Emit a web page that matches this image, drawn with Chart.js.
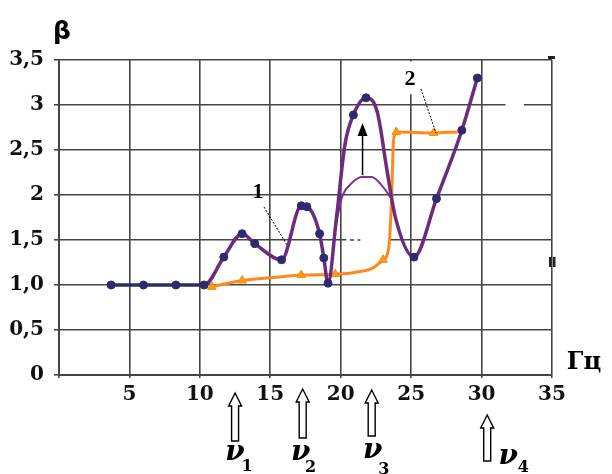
<!DOCTYPE html>
<html>
<head>
<meta charset="utf-8">
<script src="https://cdn.jsdelivr.net/npm/chart.js@4.4.1/dist/chart.umd.min.js"></script>
<style>
  html, body { margin: 0; padding: 0; background: #fff; }
  #chart { display: block; }
</style>
</head>
<body>
<canvas id="chart" width="612" height="474"></canvas>
<script>
// кривая 1 (жирная, с точками)
const freq1   = [3.7, 6.0, 8.3, 10.3, 11.7, 13.0, 13.9, 15.8, 17.2, 17.6, 18.5, 18.8, 19.1, 19.7, 20.3, 20.9, 21.8, 22.6, 23.3, 23.9, 25.2, 26.8, 28.6, 29.7];
const beta1   = [1.0, 1.0, 1.0, 1.0, 1.31, 1.57, 1.46, 1.28, 1.88, 1.87, 1.57, 1.30, 1.02, 1.75, 2.56, 2.89, 3.08, 2.92, 2.26, 1.74, 1.31, 1.96, 2.72, 3.30];
const marked1 = [1, 1, 1, 1, 1, 1, 1, 1, 1, 1, 1, 1, 1, 0, 0, 1, 1, 0, 0, 0, 1, 1, 1, 1];
// тонкая ветвь кривой 1 (под стрелкой)
const freqBranch = [19.6, 20.1, 20.7, 21.5, 22.2, 22.9, 23.6];
const betaBranch = [1.62, 1.98, 2.12, 2.2, 2.2, 2.11, 1.96];
// кривая 2 (оранжевая)
const freq2   = [10.85, 13.0, 15.0, 17.2, 19.6, 21.0, 22.3, 23.0, 23.4, 23.6, 23.75, 23.95, 26.6, 28.3];
const beta2   = [0.98, 1.05, 1.08, 1.11, 1.12, 1.14, 1.19, 1.28, 1.4, 1.9, 2.6, 2.70, 2.69, 2.70];
const marked2 = [1, 1, 0, 1, 1, 0, 0, 1, 0, 0, 0, 1, 1, 0];

const xTicks  = [5, 10, 15, 20, 25, 30, 35];
const yLabels = ['0', '0,5', '1,0', '1,5', '2', '2,5', '3', '3,5'];
const nuFreq  = [12.5, 17.3, 22.2, 30.4];
const nuNames = ['1', '2', '3', '4'];

const toPts = (xs, ys) => xs.map((v, i) => ({ x: v, y: ys[i] }));
const gridColor = '#454545';
const navy = '#2d2a6e';
const purple = '#6c2b7f';

const extras = {
  id: 'extras',
  beforeDatasetsDraw(chart) {
    const { ctx, scales: { x, y } } = chart;
    ctx.save();
    ctx.fillStyle = '#fff';
    // разрыв линии 3,0
    ctx.fillRect(x.getPixelForValue(31.7), y.getPixelForValue(3) - 2, x.getPixelForValue(33.0) - x.getPixelForValue(31.7), 4);
    // фон под меткой "2"
    ctx.fillRect(x.getPixelForValue(24.5), y.getPixelForValue(3.5) + 1.5, x.getPixelForValue(25.5) - x.getPixelForValue(24.5), y.getPixelForValue(3.12) - y.getPixelForValue(3.5) - 1.5);
    // прерывистый участок линии 1,5
    const y15 = y.getPixelForValue(1.5);
    ctx.fillRect(x.getPixelForValue(20.4), y15 - 2, x.getPixelForValue(23.5) - x.getPixelForValue(20.4), 4);
    ctx.strokeStyle = gridColor;
    ctx.lineWidth = 1.6;
    ctx.beginPath();
    ctx.moveTo(x.getPixelForValue(20.65), y15); ctx.lineTo(x.getPixelForValue(20.95), y15);
    ctx.moveTo(x.getPixelForValue(21.2), y15); ctx.lineTo(x.getPixelForValue(21.4), y15);
    ctx.stroke();
    ctx.restore();
  },
  afterDatasetsDraw(chart) {
    const { ctx, scales: { x, y } } = chart;
    ctx.save();
    // стрелка внутри пика
    const ax = x.getPixelForValue(21.55);
    const a0 = y.getPixelForValue(2.22), a1 = y.getPixelForValue(2.8);
    ctx.strokeStyle = '#000';
    ctx.fillStyle = '#000';
    ctx.lineWidth = 1.5;
    ctx.beginPath(); ctx.moveTo(ax, a0); ctx.lineTo(ax, a1 + 10); ctx.stroke();
    ctx.beginPath(); ctx.moveTo(ax, a1); ctx.lineTo(ax + 5, a1 + 13); ctx.lineTo(ax - 5, a1 + 13); ctx.closePath(); ctx.fill();

    // метки кривых
    ctx.font = 'bold 22px "Liberation Serif"';
    ctx.textAlign = 'center';
    ctx.textBaseline = 'middle';
    ctx.fillText('1', 258, 192);
    ctx.fillText('2', 410, 79);
    ctx.lineWidth = 1;
    ctx.setLineDash([2, 1.5]);
    ctx.beginPath(); ctx.moveTo(264, 207); ctx.lineTo(287, 245); ctx.stroke();
    ctx.beginPath(); ctx.moveTo(421, 89); ctx.lineTo(436, 133); ctx.stroke();
    ctx.setLineDash([]);

    // подписи осей
    ctx.font = 'bold 25px "DejaVu Sans"';
    ctx.fillText('β', 62, 32);
    ctx.font = 'bold 24px "DejaVu Serif"';
    ctx.fillText('Гц', 584, 363);

    // мелкие отметки на рамке
    ctx.fillStyle = '#222';
    ctx.fillRect(548, 56, 7, 3);
    ctx.fillRect(549, 257, 2.5, 10);
    ctx.fillRect(553, 257, 2.5, 10);

    // стрелки резонансных частот
    const tipY = [393, 389, 390, 415], baseY = [441, 438, 436, 461];
    const labelDx = [0, -2, 1, 21], labelY = [460, 460, 458, 464];
    const subDx = [12, 10, 11, 15], subY = [471, 472, 474, 472];
    nuFreq.forEach((f, i) => {
      const px = x.getPixelForValue(f);
      const t = tipY[i], b = baseY[i];
      ctx.beginPath();
      ctx.moveTo(px, t);
      ctx.lineTo(px + 6.5, t + 13);
      ctx.lineTo(px + 3.5, t + 13);
      ctx.lineTo(px + 3.5, b);
      ctx.lineTo(px - 3.5, b);
      ctx.lineTo(px - 3.5, t + 13);
      ctx.lineTo(px - 6.5, t + 13);
      ctx.closePath();
      ctx.fillStyle = '#fff';
      ctx.fill();
      ctx.strokeStyle = '#000';
      ctx.lineWidth = 1.4;
      ctx.stroke();
      const lx = px + labelDx[i];
      ctx.fillStyle = '#000';
      ctx.textBaseline = 'alphabetic';
      ctx.font = 'bold italic 28px "DejaVu Serif"';
      ctx.fillText('ν', lx, labelY[i]);
      ctx.font = 'bold 16px "DejaVu Serif"';
      ctx.fillText(nuNames[i], lx + subDx[i], subY[i]);
    });
    ctx.restore();
  }
};

new Chart(document.getElementById('chart'), {
  type: 'line',
  data: {
    datasets: [
      {
        data: toPts(freq1, beta1),
        borderColor: purple,
        borderWidth: 3.5,
        segment: { borderColor: c => c.p1.parsed.x <= 10.3 ? navy : purple },
        pointRadius: marked1.map(m => m ? 4 : 0),
        pointBorderWidth: 1,
        pointBackgroundColor: navy,
        pointBorderColor: navy,
        cubicInterpolationMode: 'monotone',
        fill: false
      },
      {
        data: toPts(freqBranch, betaBranch),
        borderColor: '#7a3489',
        borderWidth: 2,
        pointRadius: 0,
        cubicInterpolationMode: 'monotone',
        fill: false
      },
      {
        data: toPts(freq2, beta2),
        borderColor: '#ff8a1c',
        borderWidth: 3,
        pointStyle: 'triangle',
        pointRadius: marked2.map(m => m ? 5 : 0),
        pointBorderWidth: 1,
        pointBackgroundColor: '#ff9d12',
        pointBorderColor: '#f08a10',
        cubicInterpolationMode: 'monotone',
        fill: false
      }
    ]
  },
  options: {
    responsive: false,
    animation: false,
    layout: { padding: { top: 60, right: 60, left: 0, bottom: 0 } },
    plugins: { legend: { display: false }, tooltip: { enabled: false } },
    scales: {
      x: {
        type: 'linear',
        min: 0,
        max: 35,
        afterFit: s => { s.height = 99; },
        grid: { color: gridColor, lineWidth: 1.6, tickLength: 3 },
        border: { color: gridColor, width: 2 },
        ticks: {
          stepSize: 5,
          padding: 5,
          color: '#111',
          font: { family: 'DejaVu Serif', size: 20, weight: 'bold' },
          callback: v => xTicks.includes(v) ? String(v) : ''
        }
      },
      y: {
        min: 0,
        max: 3.5,
        afterFit: s => { s.width = 59; },
        grid: { color: gridColor, lineWidth: 1.6, tickLength: 5 },
        border: { color: gridColor, width: 2 },
        ticks: {
          stepSize: 0.5,
          padding: 10,
          color: '#111',
          font: { family: 'DejaVu Serif', size: 20, weight: 'bold' },
          callback: v => yLabels[Math.round(v * 2)]
        }
      }
    }
  },
  plugins: [extras]
});
</script>
</body>
</html>
